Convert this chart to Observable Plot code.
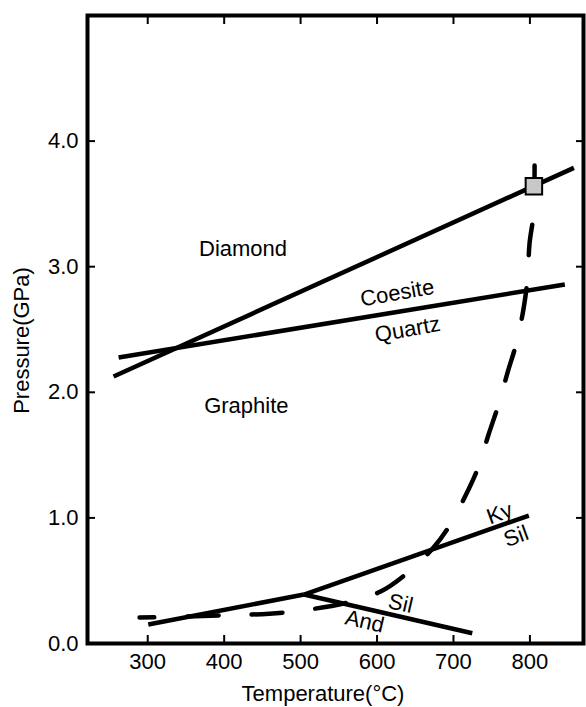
<!DOCTYPE html>
<html><head><meta charset="utf-8">
<script src="https://cdn.jsdelivr.net/npm/d3@7"></script>
<script src="https://cdn.jsdelivr.net/npm/@observablehq/plot@0.6"></script>
<style>body{margin:0;background:#fff} svg{display:block}</style>
</head><body><div id="chart"></div>
<script>
// Axis ticks
const xTicks = [300, 400, 500, 600, 700, 800];
const yTicks = [0, 1, 2, 3, 4];
const yTickLabels = ["0.0", "1.0", "2.0", "3.0", "4.0"];
const xTitle = "Temperature(°C)";
const yTitle = "Pressure(GPa)";

// Phase boundaries (temperature °C, pressure GPa)
const graphiteDiamondT = [255.3, 857.5];
const graphiteDiamondP = [2.126, 3.787];
const quartzCoesiteT = [261.9, 845.7];
const quartzCoesiteP = [2.277, 2.858];
const kySilT = [504.5, 798.6];
const kySilP = [0.390, 1.019];
const andKyT = [300.7, 504.5];
const andKyP = [0.151, 0.390];
const andSilT = [504.5, 724.6];
const andSilP = [0.390, 0.082];

// Dashed P-T path
const pathT = [289.3, 393.9, 479.0, 561.4, 604.6, 638.6, 673.9, 694.9, 715.8, 732.8, 745.9, 759.0, 770.8, 782.5, 791.7, 796.9, 799.5, 804.8, 806.1];
const pathP = [0.207, 0.223, 0.247, 0.326, 0.414, 0.557, 0.764, 0.939, 1.178, 1.409, 1.664, 1.903, 2.158, 2.396, 2.667, 2.906, 3.185, 3.424, 3.806];

// Peak marker
const peakT = [805.2];
const peakP = [3.641];

// Field labels
const labelText = ["Diamond", "Graphite", "Coesite", "Quartz", "Ky", "Sil", "Sil", "And"];
const labelT = [424.7, 429.0, 626.4, 640.0, 760.3, 781.9, 630.8, 583.7];
const labelP = [3.145, 1.889, 2.79, 2.50, 1.035, 0.852, 0.318, 0.175];
const labelAngle = [0, 0, -10, -10, -20, -20, 13, 13];

const toPts = (T, P) => T.map((t, i) => ({t, p: P[i]}));
const labels = labelText.map((s, i) => ({s, t: labelT[i], p: labelP[i], a: labelAngle[i]}));

const solid = {x: "t", y: "p", stroke: "black", strokeWidth: 4.5, strokeLinecap: "butt"};

const chart = Plot.plot({
  width: 586,
  height: 707,
  marginLeft: 87,
  marginRight: 3,
  marginTop: 15,
  marginBottom: 64,
  style: {fontFamily: "'Liberation Sans', Arial, Helvetica, sans-serif", fontSize: "22px", color: "black", background: "white"},
  x: {domain: [221.2, 870.1]},
  y: {domain: [0, 5]},
  marks: [
    Plot.line(toPts(graphiteDiamondT, graphiteDiamondP), solid),
    Plot.line(toPts(quartzCoesiteT, quartzCoesiteP), solid),
    Plot.line(toPts(kySilT, kySilP), solid),
    Plot.line(toPts(andKyT, andKyP), solid),
    Plot.line(toPts(andSilT, andSilP), solid),
    Plot.line(toPts(pathT, pathP), {x: "t", y: "p", stroke: "black", strokeWidth: 4.5, strokeDasharray: "31,33", strokeDashoffset: 16, curve: "catmull-rom"}),
    Plot.dot(toPts(peakT, peakP), {x: "t", y: "p", symbol: "square", r: 9.3, fill: "#c8c8c8", stroke: "black", strokeWidth: 2}),
    Plot.text(labels, {x: "t", y: "p", text: "s", rotate: "a", fontSize: 22, fill: "black"}),
    Plot.frame({stroke: "black", strokeWidth: 4}),
    Plot.axisX({anchor: "bottom", ticks: xTicks, tickSize: -8, tickPadding: 17.4, strokeWidth: 2, fontSize: 22, label: null, tickFormat: d => String(d)}),
    Plot.axisX({anchor: "top", ticks: xTicks, tickSize: -8, strokeWidth: 2, fill: "none", label: null}),
    Plot.axisY({anchor: "left", ticks: yTicks, tickSize: -8, tickPadding: 17, strokeWidth: 2, fontSize: 22, label: null, tickFormat: d => yTickLabels[yTicks.indexOf(d)]}),
    Plot.axisY({anchor: "right", ticks: yTicks, tickSize: -8, strokeWidth: 2, fill: "none", label: null}),
    Plot.text([xTitle], {frameAnchor: "bottom", textAnchor: "middle", lineAnchor: "middle", dx: -12.5, dy: 50, fontSize: 22, fill: "black"}),
    Plot.text([yTitle], {frameAnchor: "left", textAnchor: "middle", lineAnchor: "middle", rotate: -90, dx: -65.3, dy: 11, fontSize: 22, fill: "black"})
  ]
});
document.getElementById("chart").appendChild(chart);
</script>
</body></html>
